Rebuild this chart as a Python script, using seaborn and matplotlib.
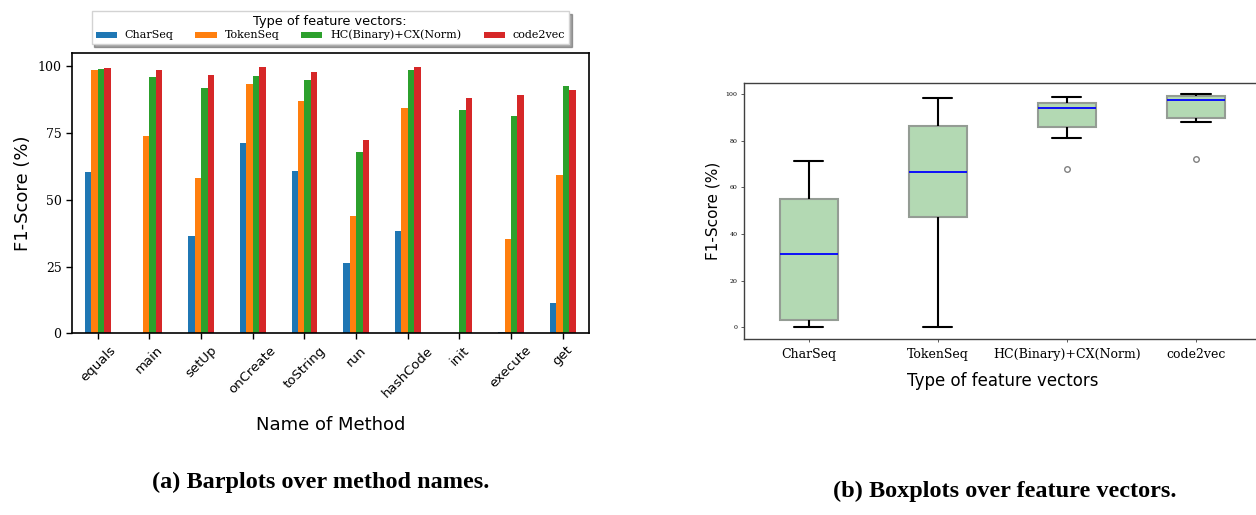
import numpy as np
import pandas as pd
import matplotlib
matplotlib.use("Agg")
import matplotlib.pyplot as plt
import seaborn as sns

# values (F1-score in %)
methods = ["equals", "main", "setUp", "onCreate", "toString",
           "run", "hashCode", "init", "execute", "get"]
vectors = ["CharSeq", "TokenSeq", "HC(Binary)+CX(Norm)", "code2vec"]
charseq = [60.3, 0.0, 36.3, 71.2, 60.8, 26.4, 38.4, 0.0, 0.5, 11.5]
tokenseq = [98.5, 74.1, 58.1, 93.3, 86.9, 44.0, 84.5, 0.0, 35.5, 59.3]
hc_cx = [98.9, 96.0, 91.9, 96.4, 95.0, 67.9, 98.5, 83.7, 81.3, 92.7]
code2vec = [99.4, 98.8, 96.8, 99.6, 98.0, 72.3, 99.9, 88.2, 89.2, 91.0]
yticks_a = [0, 25, 50, 75, 100]
yticks_b = [0, 20, 40, 60, 80, 100]
bar_colors = ["#1f77b4", "#ff7f0e", "#2ca02c", "#d62728"]

df = pd.DataFrame({
    "method": methods * len(vectors),
    "vector": np.repeat(vectors, len(methods)),
    "score": charseq + tokenseq + hc_cx + code2vec,
})

sns.set_style("ticks")
plt.rcParams["font.family"] = ["DejaVu Sans"]
for key in ["text.color", "axes.labelcolor", "xtick.color", "ytick.color"]:
    plt.rcParams[key] = "black"
serif = "DejaVu Serif"

W, H = 1256, 515
fig = plt.figure(figsize=(W / 100, H / 100), dpi=100)

# (a) barplots
ax1 = fig.add_axes([72 / W, 1 - 333.3 / H, (588.5 - 72) / W, (333.3 - 53.3) / H])
sns.barplot(data=df, x="method", y="score", hue="vector", hue_order=vectors,
            order=methods, palette=bar_colors, saturation=1, width=0.5,
            errorbar=None, linewidth=0, ax=ax1)
ax1.set_xlim(-0.5, 9.5)
ax1.set_ylim(0, 104.9)
ax1.set_yticks(yticks_a)
ax1.set_yticklabels([str(t) for t in yticks_a], fontfamily=serif, fontsize=9)
ax1.set_xticks(range(len(methods)))
ax1.set_xticklabels(methods, rotation=45, fontsize=9.5)
ax1.set_ylabel("F1-Score (%)", fontsize=13)
ax1.set_xlabel("Name of Method", fontsize=13, labelpad=12)
for s in ax1.spines.values():
    s.set_color("black")
    s.set_linewidth(1.2)
ax1.tick_params(length=4, width=1, color="black")

handles, labels = ax1.get_legend_handles_labels()
leg = ax1.legend(handles, labels, title="Type of feature vectors:", ncol=4,
                 loc="lower center", bbox_to_anchor=(0.5, 1.012),
                 prop={"family": serif, "size": 8}, title_fontsize=9.3,
                 shadow=True, fancybox=False, edgecolor="lightgray",
                 framealpha=1, handlelength=1.9, handleheight=0.45,
                 handletextpad=0.7, columnspacing=2.0, borderpad=0.35,
                 labelspacing=0.2)

# (b) boxplots over the same scores
ax2 = fig.add_axes([744 / W, 1 - 339 / H, (1260.6 - 744) / W, (339 - 82.7) / H])
sns.boxplot(data=df, x="vector", y="score", order=vectors, width=0.45,
            ax=ax2, color=(0.70, 0.85, 0.70), saturation=1,
            linecolor="#949c94", linewidth=1.5,
            medianprops={"color": "blue", "linewidth": 1.3},
            whiskerprops={"color": "black", "linewidth": 1.5},
            capprops={"color": "black", "linewidth": 1.5},
            flierprops={"marker": "o", "markerfacecolor": "none",
                        "markeredgecolor": "gray", "markersize": 4})
ax2.set_xlim(-0.5, 3.5)
ax2.set_ylim(-5, 104.9)
ax2.set_yticks(yticks_b)
ax2.set_yticklabels([str(t) for t in yticks_b], fontfamily=serif, fontsize=4.5)
ax2.set_xticks(range(len(vectors)))
ax2.set_xticklabels(vectors, fontfamily=serif, fontsize=9)
ax2.set_ylabel("F1-Score (%)", fontsize=11)
ax2.set_xlabel("Type of feature vectors", fontsize=12, labelpad=8)
for s in ax2.spines.values():
    s.set_visible(True)
    s.set_color("#404040")
    s.set_linewidth(1.0)
ax2.tick_params(axis="y", length=2.5, width=0.6, color="#404040", pad=2)
ax2.tick_params(axis="x", length=2.5, width=0.6, color="#404040", pad=4)

fig.text(321 / W, 1 - 482 / H, "(a) Barplots over method names.",
         ha="center", va="center", fontfamily="Liberation Serif",
         fontweight="bold", fontsize=17.5)
fig.text(1005 / W, 1 - 491 / H, "(b) Boxplots over feature vectors.",
         ha="center", va="center", fontfamily="Liberation Serif",
         fontweight="bold", fontsize=17.5)

fig.savefig("out.png", dpi=100)
